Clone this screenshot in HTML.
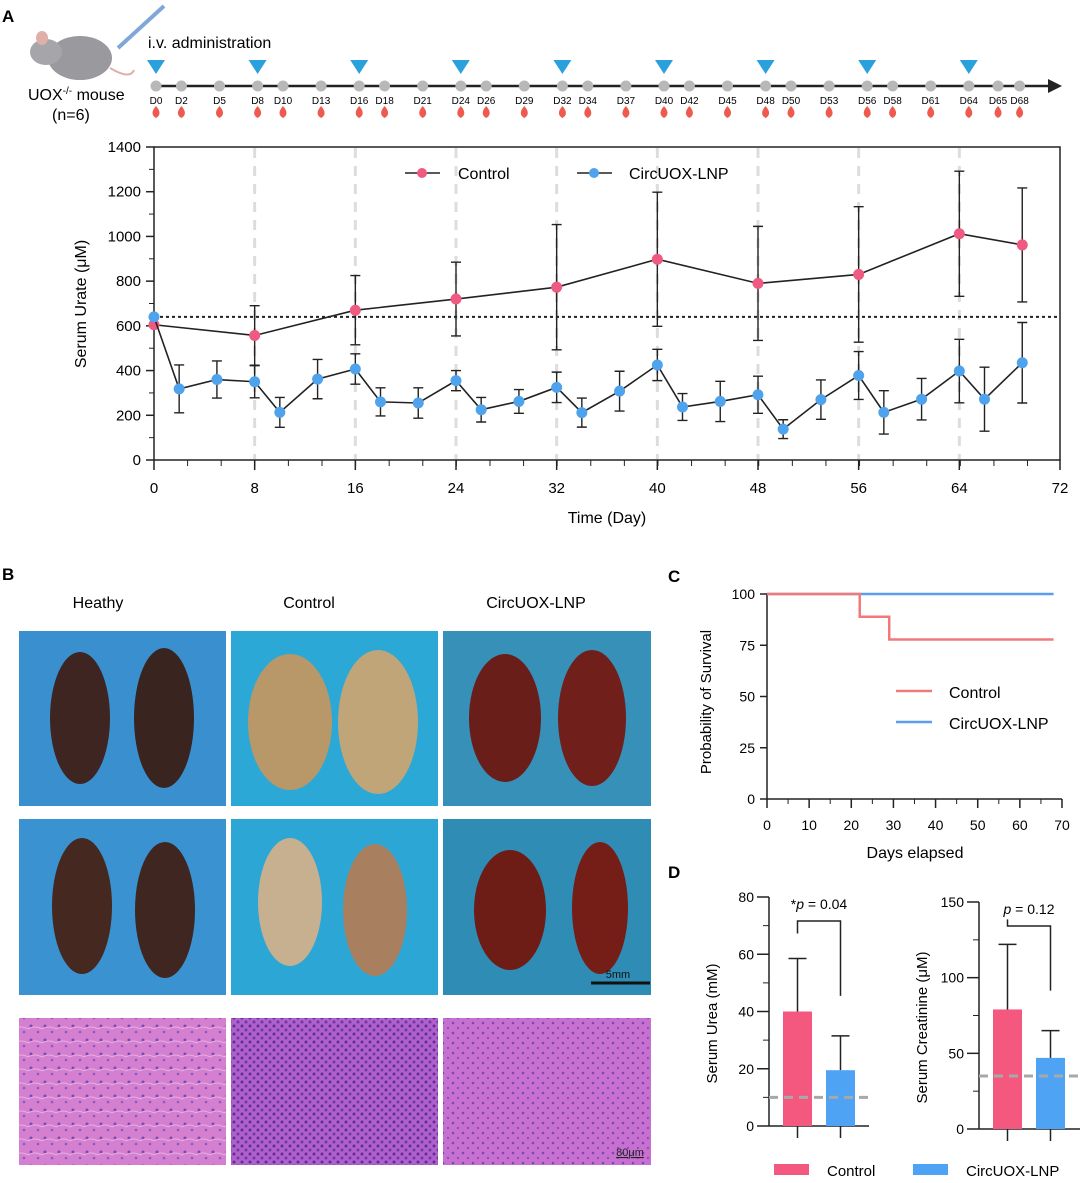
<!DOCTYPE html>
<html><head><meta charset="utf-8"><style>
body{margin:0;background:#fff;}
svg{display:block;font-family:"Liberation Sans",Arial,sans-serif;}
</style></head><body>
<svg id="fig" width="1080" height="1183" viewBox="0 0 1080 1183" xmlns="http://www.w3.org/2000/svg">
<g id="panelA">
<text x="2" y="22" font-size="17" font-weight="bold">A</text>
<g>
<ellipse cx="80" cy="58" rx="32" ry="22" fill="#9a9a9e"/>
<ellipse cx="46" cy="52" rx="16" ry="13" fill="#a5a5aa"/>
<ellipse cx="42" cy="38" rx="6" ry="7" fill="#e0b0a8"/>
<path d="M110 68 Q130 80 134 70" stroke="#e0b0a8" stroke-width="2" fill="none"/>
</g>
<line x1="118" y1="48" x2="164" y2="6" stroke="#7fa8d8" stroke-width="4"/>
<text x="148" y="48" font-size="16">i.v. administration</text>
<text x="28" y="100" font-size="16">UOX<tspan font-size="10" dy="-6">-/-</tspan><tspan dy="6"> mouse</tspan></text>
<text x="52" y="120" font-size="16">(n=6)</text>
<line x1="152" y1="86" x2="1050" y2="86" stroke="#222" stroke-width="2.5"/>
<polygon points="1048,79 1062,86 1048,93" fill="#222"/>
<g id="timeline"></g>
</g>
<g id="mainChart"></g>
<g id="panelB">
<text x="2" y="580" font-size="17" font-weight="bold">B</text>
<text x="98" y="608" font-size="16" text-anchor="middle">Heathy</text>
<text x="309" y="608" font-size="16" text-anchor="middle">Control</text>
<text x="536" y="608" font-size="16" text-anchor="middle">CircUOX-LNP</text>
<defs>
<pattern id="he1" width="14" height="14" patternUnits="userSpaceOnUse"><rect width="14" height="14" fill="#d47fd0"/><circle cx="3" cy="4" r="1.5" fill="#7a4ab8"/><circle cx="10" cy="10" r="1.3" fill="#8a5ac0"/><path d="M0 7 Q7 3 14 7" stroke="#e8b0e0" fill="none"/></pattern>
<pattern id="he2" width="8" height="8" patternUnits="userSpaceOnUse"><rect width="8" height="8" fill="#b060c8"/><circle cx="2" cy="2" r="1.5" fill="#5a30a0"/><circle cx="6" cy="6" r="1.5" fill="#6a3ab0"/></pattern>
<pattern id="he3" width="10" height="10" patternUnits="userSpaceOnUse"><rect width="10" height="10" fill="#c870d0"/><circle cx="3" cy="3" r="1.3" fill="#7a48b8"/><circle cx="8" cy="8" r="1.2" fill="#8a50c0"/></pattern>
</defs>
<rect x="19" y="631" width="207" height="175" fill="#3a90cf"/>
<ellipse cx="80" cy="718" rx="30" ry="66" fill="#3e2522"/><ellipse cx="164" cy="718" rx="30" ry="70" fill="#3a2420"/>
<rect x="231" y="631" width="207" height="175" fill="#2ba8d6"/>
<ellipse cx="290" cy="722" rx="42" ry="68" fill="#b89868"/><ellipse cx="378" cy="722" rx="40" ry="72" fill="#c0a578"/>
<rect x="443" y="631" width="208" height="175" fill="#3690b8"/>
<ellipse cx="505" cy="718" rx="36" ry="64" fill="#6a1e1a"/><ellipse cx="592" cy="718" rx="34" ry="68" fill="#701f1a"/>
<rect x="19" y="819" width="207" height="176" fill="#3a92d0"/>
<ellipse cx="82" cy="906" rx="30" ry="68" fill="#45281f"/><ellipse cx="165" cy="910" rx="30" ry="68" fill="#402620"/>
<rect x="231" y="819" width="207" height="176" fill="#2ca6d4"/>
<ellipse cx="290" cy="902" rx="32" ry="64" fill="#c6b090"/><ellipse cx="375" cy="910" rx="32" ry="66" fill="#a88060"/>
<rect x="443" y="819" width="208" height="176" fill="#2f8cb4"/>
<ellipse cx="510" cy="910" rx="36" ry="60" fill="#6e1c16"/><ellipse cx="600" cy="908" rx="28" ry="66" fill="#751e18"/>
<line x1="591" y1="983" x2="650" y2="983" stroke="#111" stroke-width="3"/>
<text x="618" y="978" font-size="11" text-anchor="middle" fill="#111">5mm</text>
<rect x="19" y="1018" width="207" height="147" fill="url(#he1)"/>
<rect x="231" y="1018" width="207" height="147" fill="url(#he2)"/>
<rect x="443" y="1018" width="208" height="147" fill="url(#he3)"/>
<text x="630" y="1156" font-size="11" text-anchor="middle" fill="#222" text-decoration="underline">80μm</text>
</g>
<g id="panelC"></g>
<g id="panelD"></g>
</svg>
<script>
// ---- timeline data ----
const sampleDays=[0,2,5,8,10,13,16,18,21,24,26,29,32,34,37,40,42,45,48,50,53,56,58,61,64,66.3,68];
const sampleLabels=["D0","D2","D5","D8","D10","D13","D16","D18","D21","D24","D26","D29","D32","D34","D37","D40","D42","D45","D48","D50","D53","D56","D58","D61","D64","D65","D68"];
const doseDays=[0,8,16,24,32,40,48,56,64];
// ---- main chart data ----
const blueDays=[0,2,5,8,10,13,16,18,21,24,26,29,32,34,37,40,42,45,48,50,53,56,58,61,64,66,69];
const blueMean=[640,318,360,350,213,362,407,260,255,355,225,262,325,212,308,425,237,262,292,138,270,378,213,272,398,272,435];
const blueErr=[0,107,83,72,67,88,68,63,68,45,55,53,68,65,89,70,60,90,83,42,88,107,97,93,142,143,180];
const ctrlDays=[0,8,16,24,32,40,48,56,64,69];
const ctrlMean=[605,557,670,720,773,898,790,830,1012,962];
const ctrlErr=[0,133,155,165,280,300,255,303,280,255];
const baseline=640;
const yTicks=[0,200,400,600,800,1000,1200,1400];
const xTicks=[0,8,16,24,32,40,48,56,64,72];
// ---- survival data ----
const survCtrlX=[0,22,22,29,29,68];
const survCtrlY=[100,100,88.9,88.9,77.8,77.8];
const survBlueX=[0,68];
const survBlueY=[100,100];
const survXTicks=[0,10,20,30,40,50,60,70];
const survYTicks=[0,25,50,75,100];
// ---- bar data ----
const groups=["Control","CircUOX-LNP"];
const ureaMean=[40,19.5];
const ureaErr=[18.5,12];
const ureaBase=10;
const ureaTicks=[0,20,40,60,80];
const creaMean=[79,47];
const creaErr=[43,18];
const creaBase=35;
const creaTicks=[0,50,100,150];

const NS="http://www.w3.org/2000/svg";
function mk(tag,attrs,parent,text){const e=document.createElementNS(NS,tag);for(const k in attrs)e.setAttribute(k,attrs[k]);if(text!==undefined)e.textContent=text;parent.appendChild(e);return e;}

// timeline
const tl=document.getElementById('timeline');
const tx=d=>156+d*12.7;
doseDays.forEach(d=>{const p=mk('polygon',{points:`${tx(d)-9},60 ${tx(d)+9},60 ${tx(d)},74`,fill:'#2aa0dc'},tl);

});
sampleDays.forEach((d,i)=>{const c=mk('circle',{cx:tx(d),cy:86,r:5.5,fill:'#b8b8b8'},tl);


const t=mk('text',{x:tx(d),y:104,'font-size':10,'text-anchor':'middle'},tl,sampleLabels[i]);


const r=mk('path',{d:`M${tx(d)} 106 Q${tx(d)+7} 114 ${tx(d)} 118 Q${tx(d)-7} 114 ${tx(d)} 106Z`,fill:'#ee5a4e'},tl);

});

// main chart
const g=document.getElementById('mainChart');
const X=d=>154+d*(906/72), Y=v=>460-v*(313/1400);
mk('rect',{x:154,y:147,width:906,height:313,fill:'none',stroke:'#222','stroke-width':1.5},g);
for(let d=8;d<=64;d+=8){const l=mk('line',{x1:X(d),y1:148,x2:X(d),y2:459,stroke:'#ddd','stroke-width':3,'stroke-dasharray':'10,8'},g);

}
yTicks.forEach(v=>{mk('line',{x1:146,y1:Y(v),x2:154,y2:Y(v),stroke:'#222','stroke-width':1.5},g);
if(v<1400)mk('line',{x1:149,y1:Y(v+100),x2:154,y2:Y(v+100),stroke:'#222'},g);
const t=mk('text',{x:141,y:Y(v)+5,'font-size':15,'text-anchor':'end'},g,v);

});
for(let d=0;d<=72;d+=2.67){mk('line',{x1:X(d),y1:460,x2:X(d),y2:466,stroke:'#222'},g);}
xTicks.forEach(d=>{mk('line',{x1:X(d),y1:460,x2:X(d),y2:470,stroke:'#222','stroke-width':1.5},g);
const t=mk('text',{x:X(d),y:493,'font-size':15,'text-anchor':'middle'},g,d);

});
let t=mk('text',{x:607,y:523,'font-size':16,'text-anchor':'middle'},g,'Time (Day)');


t=mk('text',{x:0,y:0,'font-size':16,'text-anchor':'middle',transform:'translate(86,304) rotate(-90)'},g,'Serum Urate (μM)');


const bl=mk('line',{x1:154,y1:Y(baseline),x2:1060,y2:Y(baseline),stroke:'#222','stroke-width':2,'stroke-dasharray':'3,3'},g);


function series(days,mean,err,color,name){
 days.forEach((d,i)=>{if(err[i]>0){const e=mk('path',{d:`M${X(d)} ${Y(mean[i]-err[i])}V${Y(mean[i]+err[i])}M${X(d)-5} ${Y(mean[i]+err[i])}H${X(d)+5}M${X(d)-5} ${Y(mean[i]-err[i])}H${X(d)+5}`,stroke:'#222','stroke-width':1.4,fill:'none'},g);
 
 }});
 const pl=mk('polyline',{points:days.map((d,i)=>X(d)+','+Y(mean[i])).join(' '),fill:'none',stroke:'#222','stroke-width':1.6},g);
 
 
 days.forEach((d,i)=>{const c=mk('circle',{cx:X(d),cy:Y(mean[i]),r:5.5,fill:color},g);
 
 });
}
series(ctrlDays,ctrlMean,ctrlErr,'#ef5a82','control');
series(blueDays,blueMean,blueErr,'#4ea3ec','circuox');
mk('line',{x1:405,y1:173,x2:440,y2:173,stroke:'#222','stroke-width':1.6},g);
mk('circle',{cx:422,cy:173,r:5,fill:'#ef5a82'},g);
t=mk('text',{x:458,y:179,'font-size':16},g,'Control');


mk('line',{x1:577,y1:173,x2:612,y2:173,stroke:'#222','stroke-width':1.6},g);
mk('circle',{cx:594,cy:173,r:5,fill:'#4ea3ec'},g);
t=mk('text',{x:629,y:179,'font-size':16},g,'CircUOX-LNP');



// panel C
const c=document.getElementById('panelC');
const CX=d=>767+d*(295/70), CY=v=>799-v*(205/100);
mk('text',{x:668,y:582,'font-size':17,'font-weight':'bold'},c,'C');
mk('line',{x1:767,y1:594,x2:767,y2:799,stroke:'#222','stroke-width':1.5},c);
mk('line',{x1:767,y1:799,x2:1062,y2:799,stroke:'#222','stroke-width':1.5},c);
survYTicks.forEach(v=>{mk('line',{x1:760,y1:CY(v),x2:767,y2:CY(v),stroke:'#222','stroke-width':1.5},c);
const tt=mk('text',{x:755,y:CY(v)+5,'font-size':14,'text-anchor':'end'},c,v);

});
survXTicks.forEach(d=>{mk('line',{x1:CX(d),y1:799,x2:CX(d),y2:808,stroke:'#222','stroke-width':1.5},c);
if(d<70)mk('line',{x1:CX(d+5),y1:799,x2:CX(d+5),y2:804,stroke:'#222'},c);
const tt=mk('text',{x:CX(d),y:830,'font-size':14,'text-anchor':'middle'},c,d);

});
t=mk('text',{x:915,y:858,'font-size':16,'text-anchor':'middle'},c,'Days elapsed');


t=mk('text',{x:0,y:0,'font-size':15,'text-anchor':'middle',transform:'translate(711,702) rotate(-90)'},c,'Probability of Survival');


let s=mk('polyline',{points:survBlueX.map((d,i)=>CX(d)+','+CY(survBlueY[i])).join(' '),fill:'none',stroke:'#5a9cf0','stroke-width':2.5},c);


s=mk('polyline',{points:survCtrlX.map((d,i)=>CX(d)+','+CY(survCtrlY[i])).join(' '),fill:'none',stroke:'#f07a7a','stroke-width':2.5},c);


mk('line',{x1:896,y1:691,x2:932,y2:691,stroke:'#f07a7a','stroke-width':2.5},c);
mk('line',{x1:896,y1:722,x2:932,y2:722,stroke:'#5a9cf0','stroke-width':2.5},c);
t=mk('text',{x:949,y:698,'font-size':16},c,'Control');


t=mk('text',{x:949,y:729,'font-size':16},c,'CircUOX-LNP');



// panel D
const dp=document.getElementById('panelD');
mk('text',{x:668,y:878,'font-size':17,'font-weight':'bold'},dp,'D');
function barChart(ax,y0,ymaxPx,maxV,ticks,mean,err,base,bx,bw,endX,title,ptxt,name){
 const Yb=v=>y0-v*((y0-ymaxPx)/maxV);
 mk('line',{x1:ax,y1:Yb(maxV),x2:ax,y2:y0,stroke:'#222','stroke-width':1.5},dp);
 mk('line',{x1:ax,y1:y0,x2:endX,y2:y0,stroke:'#222','stroke-width':1.5},dp);
 ticks.forEach((v,i)=>{mk('line',{x1:ax-12,y1:Yb(v),x2:ax,y2:Yb(v),stroke:'#222','stroke-width':1.5},dp);
 if(i<ticks.length-1){const m=(v+ticks[i+1])/2;mk('line',{x1:ax-6,y1:Yb(m),x2:ax,y2:Yb(m),stroke:'#222'},dp);}
 const tt=mk('text',{x:ax-15,y:Yb(v)+5,'font-size':14,'text-anchor':'end'},dp,v);
 
 });
 const cols=['#f4587f','#4ea3f4'];
 mean.forEach((m,i)=>{const x=bx[i];
 const r=mk('rect',{x:x,y:Yb(m),width:bw,height:y0-Yb(m),fill:cols[i]},dp);
 
 
 mk('path',{d:`M${x+bw/2} ${Yb(m)}V${Yb(m+err[i])}M${x+bw/2-9} ${Yb(m+err[i])}H${x+bw/2+9}`,stroke:'#222','stroke-width':1.5,fill:'none'},dp);
 mk('line',{x1:x+bw/2,y1:y0,x2:x+bw/2,y2:y0+12,stroke:'#222','stroke-width':1.5},dp);});
 const dl=mk('line',{x1:ax,y1:Yb(base),x2:endX,y2:Yb(base),stroke:'#a8a8a8','stroke-width':3,'stroke-dasharray':'9,6'},dp);
 
 
 const c1=bx[0]+bw/2,c2=bx[1]+bw/2,top=Yb(maxV)+24;
 mk('path',{d:`M${c1} ${Yb(mean[0]+err[0])-25}V${top}H${c2}V${Yb(mean[1]+err[1])-40}`,stroke:'#222','stroke-width':1.5,fill:'none'},dp);
 const pt=mk('text',{x:(c1+c2)/2,y:top-12,'font-size':14,'text-anchor':'middle'},dp);
 
 
 pt.innerHTML=ptxt;
 const yt=mk('text',{x:0,y:0,'font-size':15,'text-anchor':'middle',transform:`translate(${ax-52},${(y0+Yb(maxV))/2+12}) rotate(-90)`},dp,title);
 
 
}
barChart(769,1126,897,80,ureaTicks,ureaMean,ureaErr,ureaBase,[783,826],29,869,'Serum Urea (mM)','*<tspan font-style="italic">p</tspan> = 0.04','urea');
barChart(979,1129,902,150,creaTicks,creaMean,creaErr,creaBase,[993,1036],29,1080,'Serum Creatinine  (μM)','<tspan font-style="italic">p</tspan> = 0.12','creatinine');
let lr=mk('rect',{x:774,y:1164,width:35,height:11,fill:'#f4587f'},dp);


t=mk('text',{x:827,y:1176,'font-size':15},dp,groups[0]);


lr=mk('rect',{x:913,y:1164,width:35,height:11,fill:'#4ea3f4'},dp);


t=mk('text',{x:966,y:1176,'font-size':15},dp,groups[1]);


</script>
</body></html>
